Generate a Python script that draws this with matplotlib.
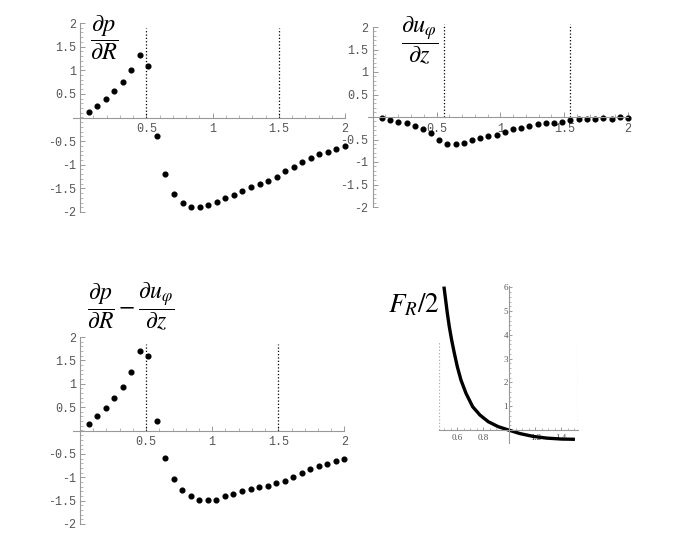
import numpy as np
import matplotlib
matplotlib.use("Agg")
from matplotlib import pyplot as plt

plt.rcParams['mathtext.fontset'] = 'stix'
plt.rcParams['font.family'] = ['Liberation Mono', 'DejaVu Sans Mono']

# dp/dR and (dp/dR - du/dz) share the same R grid
r_grid = [0.065, 0.129, 0.194, 0.258, 0.323, 0.387, 0.452, 0.516, 0.581, 0.645,
          0.710, 0.774, 0.839, 0.903, 0.968, 1.032, 1.097, 1.161, 1.226, 1.290,
          1.355, 1.419, 1.484, 1.548, 1.613, 1.677, 1.742, 1.806, 1.871, 1.935, 2.000]
dp_dR = [0.12, 0.25, 0.40, 0.56, 0.76, 1.00, 1.33, 1.10, -0.40, -1.19,
         -1.61, -1.81, -1.89, -1.89, -1.85, -1.79, -1.71, -1.64, -1.56, -1.48,
         -1.40, -1.34, -1.25, -1.14, -1.04, -0.94, -0.86, -0.78, -0.72, -0.66, -0.61]
diff = [0.14, 0.31, 0.49, 0.69, 0.94, 1.26, 1.69, 1.60, 0.20, -0.59,
        -1.04, -1.28, -1.41, -1.48, -1.49, -1.48, -1.41, -1.36, -1.29, -1.26,
        -1.21, -1.19, -1.12, -1.09, -0.99, -0.91, -0.82, -0.77, -0.71, -0.65, -0.61]

# du_phi/dz
z_grid = [0.076, 0.138, 0.201, 0.266, 0.329, 0.394, 0.457, 0.522, 0.585, 0.650,
          0.715, 0.781, 0.843, 0.906, 0.974, 1.037, 1.099, 1.162, 1.227, 1.292,
          1.355, 1.420, 1.483, 1.546, 1.614, 1.679, 1.742, 1.807, 1.872, 1.937, 2.000]
du_dz = [-0.03, -0.06, -0.10, -0.13, -0.19, -0.26, -0.36, -0.52, -0.61, -0.61,
         -0.58, -0.52, -0.47, -0.42, -0.39, -0.33, -0.27, -0.24, -0.20, -0.16,
         -0.14, -0.13, -0.10, -0.07, -0.05, -0.04, -0.04, -0.03, -0.04, -0.01, -0.02]

# F_R / 2 curve
f_x = [0.497, 0.510, 0.523, 0.538, 0.556, 0.577, 0.600, 0.628, 0.667, 0.718,
       0.774, 0.838, 0.915, 1.000, 1.082, 1.185, 1.287, 1.403, 1.505]
f_y = [6.03, 5.47, 4.91, 4.35, 3.79, 3.23, 2.66, 2.10, 1.54, 0.98,
       0.63, 0.35, 0.14, -0.01, -0.15, -0.27, -0.34, -0.38, -0.39]

x_ticks = [0.5, 1, 1.5, 2]
x_labels = ['0.5', '1', '1.5', '2']
y_ticks = [-2, -1.5, -1, -0.5, 0.5, 1, 1.5, 2]
y_labels = ['-2', '-1.5', '-1', '-0.5', '0.5', '1', '1.5', '2']

W, H = 692, 554
fig = plt.figure(figsize=(W / 100, H / 100), dpi=100)


def px_axes(x0, y0, x1, y1):
    # pixel box (left, top, right, bottom) -> figure axes
    return fig.add_axes([x0 / W, 1 - y1 / H, (x1 - x0) / W, (y1 - y0) / H])


def mathematica_axes(ax, origin_x=0):
    ax.spines['left'].set_position(('data', origin_x))
    ax.spines['bottom'].set_position(('data', 0))
    ax.spines['top'].set_visible(False)
    ax.spines['right'].set_visible(False)
    for s in ['left', 'bottom']:
        ax.spines[s].set_color('#999999')
        ax.spines[s].set_linewidth(0.8)
    ax.patch.set_alpha(0)
    ax.tick_params(which='both', direction='in', color='#999999', labelcolor='#555555')
    ax.tick_params(which='major', length=3.5, width=0.7)
    ax.tick_params(which='minor', length=2, width=0.5)


def dot_panel(ax, x, y, lines, top):
    mathematica_axes(ax)
    ax.plot(x, y, 'o', color='black', ms=3.4, clip_on=False)
    ax.vlines(lines, 0, top, colors='black', linestyles=':', lw=0.9, clip_on=False)
    ax.set_xticks(x_ticks)
    ax.set_xticklabels(x_labels)
    ax.set_yticks(y_ticks)
    ax.set_yticklabels(y_labels)
    ax.set_xticks(np.arange(0.1, 2.01, 0.1), minor=True)
    ax.set_yticks(np.arange(-2, 2.01, 0.1), minor=True)
    ax.tick_params(axis='x', labelsize=8.5, pad=4)
    ax.tick_params(axis='y', labelsize=8.5, pad=3)
    ax.set_ylim(-2, 2)


ax1 = px_axes(73.4, 23, 345, 212)
dot_panel(ax1, r_grid, dp_dR, [0.5, 1.5], 1.9)
ax1.set_xlim(-0.05, 2.0)

ax2 = px_axes(367.6, 27, 628.1, 207)
dot_panel(ax2, z_grid, du_dz, [0.558, 1.546], 2.07)
ax2.set_xlim(-0.04, 2.0)

ax3 = px_axes(72.7, 337, 344.4, 524)
dot_panel(ax3, r_grid, diff, [0.5, 1.5], 1.86)
ax3.set_xlim(-0.055, 2.0)

ax4 = px_axes(439.4, 286.1, 578.3, 443.1)
mathematica_axes(ax4, origin_x=1)
ax4.plot(f_x, f_y, color='black', lw=2.4, solid_capstyle='butt', clip_on=False)
ax4.vlines([0.462, 1.531], 0, 3.74, colors='#aaaaaa', linestyles=':', lw=0.9)
ax4.set_xlim(0.462, 1.531)
ax4.set_ylim(-0.55, 6.05)
ax4.set_xticks([0.6, 0.8, 1.2, 1.4])
ax4.set_xticklabels(['0.6', '0.8', '1.2', '1.4'], family='Liberation Serif')
ax4.set_yticks([1, 2, 3, 4, 5, 6])
ax4.set_yticklabels(['1', '2', '3', '4', '5', '6'], family='Liberation Serif')
ax4.set_xticks(np.arange(0.5, 1.55, 0.05), minor=True)
ax4.set_yticks(np.arange(0, 6.01, 0.2), minor=True)
ax4.tick_params(which='major', length=2.5)
ax4.tick_params(which='minor', length=1.2)
ax4.tick_params(axis='x', labelsize=6.5, pad=3)
ax4.tick_params(axis='y', labelsize=6.5, pad=1)

# panel labels
fig.text(104 / W, 1 - 38 / H, r'$\dfrac{\partial p}{\partial R}$',
         fontsize=17.5, ha='center', va='center')
fig.text(420 / W, 1 - 40 / H, r'$\dfrac{\partial u_\varphi}{\partial z}$',
         fontsize=17.5, ha='center', va='center')
fig.text(131 / W, 1 - 306 / H,
         r'$\dfrac{\partial p}{\partial R}-\dfrac{\partial u_\varphi}{\partial z}$',
         fontsize=17, ha='center', va='center')
fig.text(414 / W, 1 - 305 / H, r'$F_R/2$', fontsize=19.5, ha='center', va='center')

fig.savefig('out.png', dpi=100)
